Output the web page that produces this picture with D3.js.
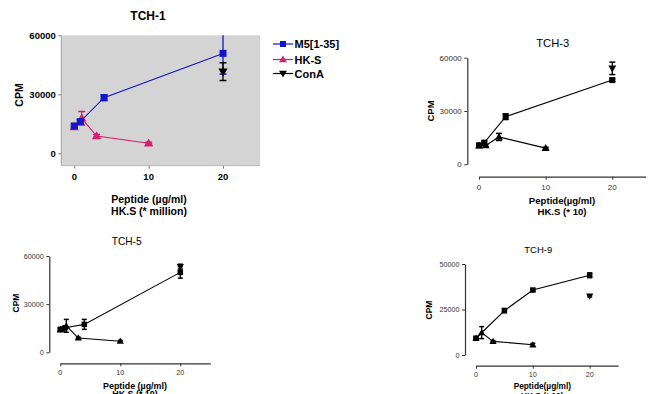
<!DOCTYPE html>
<html>
<head>
<meta charset="utf-8">
<script src="https://cdn.jsdelivr.net/npm/d3@7"></script>
<style>
  body { margin: 0; background: #fff; }
  svg { display: block; font-family: "Liberation Sans", Arial, sans-serif; }
</style>
</head>
<body>
<div id="chart"></div>
<script>
// ---- data ----
const seriesNames = ["M5[1-35]", "HK-S", "ConA"];

// TCH-1
const tch1M5Dose = [0, 0.8, 4, 20];
const tch1M5 = [13900, 16100, 28300, 50800];
const tch1M5Err = [800, 900, 1500, 10500];
const tch1HkDose = [0, 1, 3, 10];
const tch1Hk = [13300, 17800, 8800, 5100];
const tch1HkErr = [900, 3400, 700, 500];
const tch1ConADose = [20];
const tch1ConA = [41500];
const tch1ConAErr = [4500];

// TCH-3
const tch3M5Dose = [0, 0.8, 4, 20];
const tch3M5 = [10700, 12200, 26800, 47400];
const tch3M5Err = [700, 900, 1600, 800];
const tch3HkDose = [0, 1, 3, 10];
const tch3Hk = [10500, 10600, 15400, 9100];
const tch3HkErr = [500, 600, 2000, 500];
const tch3ConADose = [20];
const tch3ConA = [54000];
const tch3ConAErr = [3500];

// TCH-5
const tch5M5Dose = [0, 0.4, 0.8, 4, 20];
const tch5M5 = [14300, 14500, 15300, 17400, 49800];
const tch5M5Err = [800, 600, 700, 3100, 3600];
const tch5HkDose = [0, 1, 3, 10];
const tch5Hk = [14000, 16500, 8900, 6900];
const tch5HkErr = [600, 4000, 500, 500];
const tch5ConADose = [20];
const tch5ConA = [53400];
const tch5ConAErr = [1500];

// TCH-9
const tch9M5Dose = [0, 5, 10, 20];
const tch9M5 = [9200, 24400, 35700, 43800];
const tch9M5Err = [600, 1100, 600, 1300];
const tch9HkDose = [0, 1, 3, 10];
const tch9Hk = [9200, 12300, 7500, 5600];
const tch9HkErr = [500, 3300, 400, 800];
const tch9ConADose = [20];
const tch9ConA = [32400];
const tch9ConAErr = [500];

const xTicks = [0, 10, 20];
const yTicks60 = [0, 30000, 60000];
const yTicks50 = [0, 25000, 50000];

function pts(dose, val, err) {
  return dose.map((d, i) => ({ x: d, y: val[i], e: err[i] }));
}

const svg = d3.select("#chart").append("svg")
  .attr("width", 648)
  .attr("height", 394);

const panels = [
  {
    id: "p1", title: "TCH-1", styled: true,
    xRange: [74.3, 223], yRange: [153.3, 35.3], yMax: 60000, yTicks: yTicks60,
    bg: [-1.75, 25, -6300, 60000],
    titleX: 148, titleY: 20, titleSize: 12, titleBold: true,
    tickSize: 9.5, tickBold: true, labelSize: 10.5,
    xLabel: "Peptide (\u00b5g/ml)", xLabel2: "HK.S (* million)",
    xLabelX: 149, xLabelY: 202.5, xLabel2Y: 214.5, xTickY: 180,
    cpmX: 23, cpmY: 95, cpmSize: 10.5,
    mark: 7, cap: 7,
    colors: ["#1414c8", "#d41e6e", "#000"],
    series: [
      pts(tch1M5Dose, tch1M5, tch1M5Err),
      pts(tch1HkDose, tch1Hk, tch1HkErr),
      pts(tch1ConADose, tch1ConA, tch1ConAErr)
    ]
  },
  {
    id: "p2", title: "TCH-3",
    xRange: [479, 612.3], yRange: [164.3, 57.7], yMax: 60000, yTicks: yTicks60,
    yAxisX: 467.3, xAxisY: 176.7,
    titleX: 552.7, titleY: 46.5, titleSize: 11.2,
    tickSize: 8, labelSize: 9.6,
    xLabel: "Peptide(\u00b5g/ml)", xLabel2: "HK.S (* 10)",
    xLabelX: 562, xLabelY: 204, xLabel2Y: 215, xTickY: 189.5,
    cpmX: 433.5, cpmY: 111, cpmSize: 9.5,
    mark: 6, cap: 6,
    colors: ["#000", "#000", "#000"],
    series: [
      pts(tch3M5Dose, tch3M5, tch3M5Err),
      pts(tch3HkDose, tch3Hk, tch3HkErr),
      pts(tch3ConADose, tch3ConA, tch3ConAErr)
    ]
  },
  {
    id: "p3", title: "TCH-5",
    xRange: [60.3, 180.3], yRange: [352.3, 256], yMax: 60000, yTicks: yTicks60,
    yAxisX: 49.3, xAxisY: 363.3,
    titleX: 126.7, titleY: 245, titleSize: 10.2,
    tickSize: 7.2, labelSize: 8.9,
    xLabel: "Peptide (\u00b5g/ml)", xLabel2: "HK.S (* 10)",
    xLabelX: 135, xLabelY: 388.5, xLabel2Y: 397, xTickY: 375,
    cpmX: 18.5, cpmY: 303, cpmSize: 8.5,
    mark: 5.5, cap: 5,
    colors: ["#000", "#000", "#000"],
    series: [
      pts(tch5M5Dose, tch5M5, tch5M5Err),
      pts(tch5HkDose, tch5Hk, tch5HkErr),
      pts(tch5ConADose, tch5ConA, tch5ConAErr)
    ]
  },
  {
    id: "p4", title: "TCH-9",
    xRange: [476, 589.7], yRange: [355, 264], yMax: 50000, yTicks: yTicks50,
    yAxisX: 465, xAxisY: 365.7,
    titleX: 538.3, titleY: 253, titleSize: 9.5,
    tickSize: 7.2, labelSize: 8.3,
    xLabel: "Peptide(\u00b5g/ml)", xLabel2: "HK.S (* 10)",
    xLabelX: 542.3, xLabelY: 389, xLabel2Y: 398.5, xTickY: 377,
    cpmX: 432, cpmY: 310, cpmSize: 8.5,
    mark: 5.5, cap: 5,
    colors: ["#000", "#000", "#000"],
    series: [
      pts(tch9M5Dose, tch9M5, tch9M5Err),
      pts(tch9HkDose, tch9Hk, tch9HkErr),
      pts(tch9ConADose, tch9ConA, tch9ConAErr)
    ]
  }
];

function drawMarker(g, kind, cx, cy, size, color) {
  if (kind === 0) {
    g.append("rect")
      .attr("x", cx - size / 2).attr("y", cy - size / 2)
      .attr("width", size).attr("height", size)
      .attr("fill", color);
  } else {
    const sym = d3.symbol().type(d3.symbolTriangle).size(size * size * 0.75);
    g.append("path")
      .attr("d", sym())
      .attr("transform", `translate(${cx},${cy + (kind === 2 ? -0.5 : 0.5)})` + (kind === 2 ? " rotate(180)" : ""))
      .attr("fill", color);
  }
}

panels.forEach(p => {
  const x = d3.scaleLinear().domain([0, 20]).range(p.xRange);
  const y = d3.scaleLinear().domain([0, p.yMax]).range(p.yRange);
  const g = svg.append("g").attr("class", p.id);

  if (p.styled) {
    // gray plot area (Prism "classic" look)
    const [x0, x1, y0, y1] = p.bg;
    g.append("rect")
      .attr("x", x(x0)).attr("y", y(y1))
      .attr("width", x(x1) - x(x0)).attr("height", y(y0) - y(y1))
      .attr("fill", "#d4d4d4");
    g.append("clipPath").attr("id", "clip-" + p.id)
      .append("rect")
      .attr("x", x(x0)).attr("y", y(y1))
      .attr("width", x(x1) - x(x0)).attr("height", y(y0) - y(y1));

    const yAxis = g.append("g")
      .attr("transform", `translate(${x(x0)},0)`)
      .call(d3.axisLeft(y).tickValues(p.yTicks).tickSize(3).tickSizeOuter(0).tickFormat(d3.format("d")));
    yAxis.select(".domain").attr("stroke", "#a0a0a0").attr("d", `M0,${y(y1)}V${y(y0)}`);
    yAxis.selectAll(".tick line").attr("stroke", "#808080");
    yAxis.selectAll("text")
      .attr("x", -5.5)
      .attr("font-size", p.tickSize).attr("font-weight", "bold").attr("fill", "#000")
      .attr("font-family", "Liberation Sans, Arial, sans-serif");

    const xAxis = g.append("g")
      .attr("transform", `translate(0,${y(y0)})`)
      .call(d3.axisBottom(x).tickValues(xTicks).tickSize(3).tickSizeOuter(0));
    xAxis.select(".domain").attr("stroke", "#b8b8b8").attr("d", `M${x(x0)},0H${x(x1)}`);
    xAxis.selectAll(".tick line").attr("stroke", "#808080");
    xAxis.selectAll("text").remove();
    xTicks.forEach(t => {
      g.append("text")
        .attr("x", x(t)).attr("y", p.xTickY)
        .attr("text-anchor", "middle")
        .attr("font-size", p.tickSize).attr("font-weight", "bold")
        .text(t);
    });
  } else {
    const yAxis = g.append("g")
      .attr("transform", `translate(${p.yAxisX},0)`)
      .call(d3.axisLeft(y).tickValues(p.yTicks).tickSize(3).tickSizeOuter(0).tickFormat(d3.format("d")));
    yAxis.select(".domain").attr("stroke", "#333").attr("stroke-width", 1.2);
    yAxis.selectAll(".tick line").attr("stroke", "#333");
    yAxis.selectAll("text")
      .attr("x", -5.5)
      .attr("font-size", p.tickSize).attr("fill", "#333")
      .attr("font-family", "Liberation Sans, Arial, sans-serif");

    const x25 = d3.scaleLinear().domain([0, 25]).range([x(0), x(25)]);
    const xAxis = g.append("g")
      .attr("transform", `translate(0,${p.xAxisY})`)
      .call(d3.axisBottom(x25).tickValues(xTicks).tickSize(3).tickSizeOuter(0));
    xAxis.select(".domain").attr("stroke", "#333").attr("stroke-width", 1.2);
    xAxis.selectAll(".tick line").attr("stroke", "#333");
    xAxis.selectAll("text").remove();
    xTicks.forEach(t => {
      g.append("text")
        .attr("x", x(t)).attr("y", p.xTickY)
        .attr("text-anchor", "middle")
        .attr("font-size", p.tickSize).attr("fill", "#333")
        .text(t);
    });
  }

  // titles and axis labels
  g.append("text")
    .attr("x", p.titleX).attr("y", p.titleY)
    .attr("text-anchor", "middle")
    .attr("font-size", p.titleSize)
    .attr("font-weight", p.titleBold ? "bold" : "normal")
    .text(p.title);
  g.append("text")
    .attr("x", p.xLabelX).attr("y", p.xLabelY)
    .attr("text-anchor", "middle")
    .attr("font-size", p.labelSize).attr("font-weight", "bold")
    .text(p.xLabel);
  g.append("text")
    .attr("x", p.xLabelX).attr("y", p.xLabel2Y)
    .attr("text-anchor", "middle")
    .attr("font-size", p.labelSize).attr("font-weight", "bold")
    .text(p.xLabel2);
  g.append("text")
    .attr("transform", `translate(${p.cpmX},${p.cpmY}) rotate(-90)`)
    .attr("text-anchor", "middle")
    .attr("font-size", p.cpmSize).attr("font-weight", "bold")
    .text("CPM");

  // data layer
  const data = g.append("g");
  if (p.styled) data.attr("clip-path", `url(#clip-${p.id})`);
  const line = d3.line().x(d => x(d.x)).y(d => y(d.y));
  // draw HK-S first, M5 on top, ConA last
  [1, 0, 2].forEach(k => {
    const s = p.series[k];
    const c = p.colors[k];
    if (s.length > 1) {
      data.append("path").datum(s)
        .attr("d", line)
        .attr("fill", "none")
        .attr("stroke", c)
        .attr("stroke-width", 1.1);
    }
    s.forEach(d => {
      const cx = x(d.x);
      const top = y(d.y + d.e), bot = y(d.y - d.e);
      data.append("line")
        .attr("x1", cx).attr("x2", cx).attr("y1", top).attr("y2", bot)
        .attr("stroke", c).attr("stroke-width", 1.3);
      [top, bot].forEach(yy => {
        data.append("line")
          .attr("x1", cx - p.cap / 2).attr("x2", cx + p.cap / 2)
          .attr("y1", yy).attr("y2", yy)
          .attr("stroke", c).attr("stroke-width", 1.5);
      });
      drawMarker(data, k, cx, y(d.y), p.mark, c);
    });
  });

  // legend only on the first panel
  if (p.styled) {
    const lg = svg.append("g").attr("class", "legend");
    const rows = [44, 59.5, 73.5];
    seriesNames.forEach((name, k) => {
      const r = rows[k];
      lg.append("line")
        .attr("x1", 273).attr("x2", 293)
        .attr("y1", r).attr("y2", r)
        .attr("stroke", p.colors[k]).attr("stroke-width", 1.2);
      drawMarker(lg, k, 283, r, 6, p.colors[k]);
      lg.append("text")
        .attr("x", 294.5).attr("y", r + 4)
        .attr("font-size", 11).attr("font-weight", "bold")
        .text(name);
    });
  }
});
</script>
</body>
</html>
